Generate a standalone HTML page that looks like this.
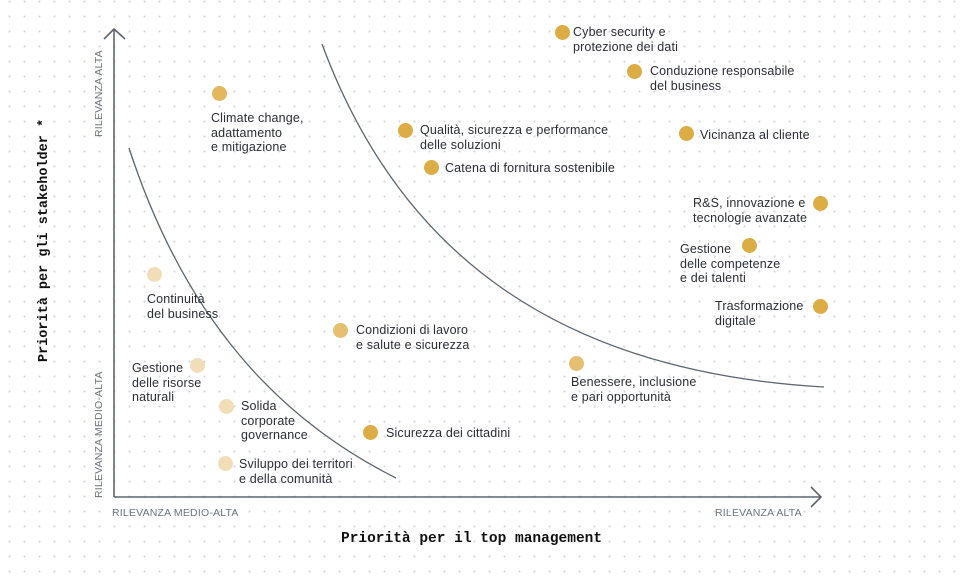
<!DOCTYPE html>
<html><head><meta charset="utf-8"><style>
body{margin:0;width:968px;height:576px;overflow:hidden;background:#fff;
background-image:radial-gradient(circle,#d4d6da 0.9px,transparent 1.2px);background-size:15px 15px;background-position:2px -6px;
font-family:"Liberation Sans",sans-serif;position:relative}
.t{position:absolute;font-size:12.5px;line-height:14.5px;color:#2a2d33;white-space:nowrap;letter-spacing:.15px}
.d{position:absolute;width:15px;height:15px;border-radius:50%;margin:-7.5px 0 0 -7.5px}
.a{background:#dcac45}.m{background:#e6bf72}.l{background:#f1deb8}
.ax{position:absolute;font-size:10.5px;color:#6b7480;letter-spacing:.2px}
</style></head><body>
<svg width="968" height="576" style="position:absolute;left:0;top:0">
<g fill="none" stroke="#5c6672" stroke-width="1.6">
<path d="M114 497V29M104 39L114 29L125 39M114 497H820M811 487L821 497L811 507"/>
<path d="M129 148C185 320 280 420 396 478" stroke-width="1.3"/>
<path d="M322 44C400 255 560 372 824 387" stroke-width="1.3"/>
</g></svg>
<div class="d a" style="left:562px;top:32px"></div><div class="t" style="left:573px;top:25px">Cyber security e<br>protezione dei dati</div>
<div class="d a" style="left:634px;top:71px"></div><div class="t" style="left:650px;top:64px">Conduzione responsabile<br>del business</div>
<div class="d a" style="left:405px;top:130px"></div><div class="t" style="left:420px;top:123px">Qualità, sicurezza e performance<br>delle soluzioni</div>
<div class="d a" style="left:686px;top:133px"></div><div class="t" style="left:700px;top:128px">Vicinanza al cliente</div>
<div class="d a" style="left:431px;top:167px"></div><div class="t" style="left:445px;top:161px">Catena di fornitura sostenibile</div>
<div class="d a" style="left:820px;top:203px"></div><div class="t" style="left:693px;top:196px">R&amp;S, innovazione e<br>tecnologie avanzate</div>
<div class="d a" style="left:749px;top:245px"></div><div class="t" style="left:680px;top:242px">Gestione<br>delle competenze<br>e dei talenti</div>
<div class="d a" style="left:820px;top:306px"></div><div class="t" style="left:715px;top:299px">Trasformazione<br>digitale</div>
<div class="d m" style="left:219px;top:93px;background:#e2b760"></div><div class="t" style="left:211px;top:111px">Climate change,<br>adattamento<br>e mitigazione</div>
<div class="d l" style="left:154px;top:274px"></div><div class="t" style="left:147px;top:292px">Continuità<br>del business</div>
<div class="d m" style="left:340px;top:330px"></div><div class="t" style="left:356px;top:323px">Condizioni di lavoro<br>e salute e sicurezza</div>
<div class="d m" style="left:576px;top:363px"></div><div class="t" style="left:571px;top:375px">Benessere, inclusione<br>e pari opportunità</div>
<div class="d l" style="left:197px;top:365px"></div><div class="t" style="left:132px;top:361px">Gestione<br>delle risorse<br>naturali</div>
<div class="d l" style="left:226px;top:406px"></div><div class="t" style="left:241px;top:399px">Solida<br>corporate<br>governance</div>
<div class="d a" style="left:370px;top:432px"></div><div class="t" style="left:386px;top:426px">Sicurezza dei cittadini</div>
<div class="d l" style="left:225px;top:463px"></div><div class="t" style="left:239px;top:457px">Sviluppo dei territori<br>e della comunità</div>
<div class="ax" style="left:112px;top:507px">RILEVANZA MEDIO-ALTA</div>
<div class="ax" style="left:715px;top:507px">RILEVANZA ALTA</div>
<div class="ax" style="left:93px;top:137px;transform-origin:0 0;transform:rotate(-90deg)">RILEVANZA ALTA</div>
<div class="ax" style="left:93px;top:498px;transform-origin:0 0;transform:rotate(-90deg)">RILEVANZA MEDIO-ALTA</div>
<div style="position:absolute;left:341px;top:531px;font:bold 14.5px 'Liberation Mono',monospace;color:#111">Priorità per il top management</div>
<div style="position:absolute;left:37px;top:362px;transform-origin:0 0;transform:rotate(-90deg);font:bold 13.5px 'Liberation Mono',monospace;color:#111;white-space:nowrap">Priorità per gli stakeholder *</div>
</body></html>
